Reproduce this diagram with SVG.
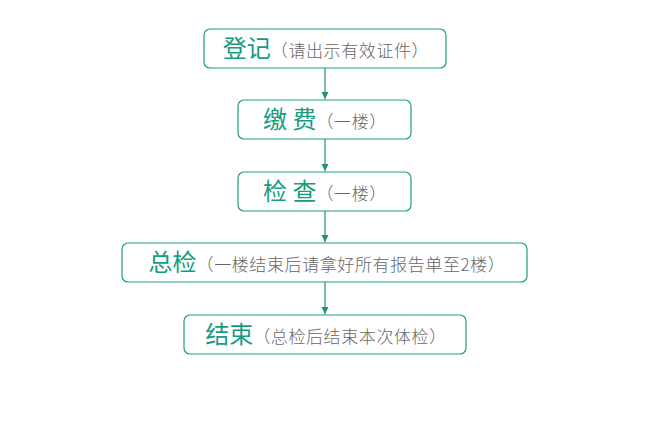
<svg xmlns="http://www.w3.org/2000/svg" width="651" height="429" viewBox="0 0 651 429">
<style>
.b{fill:#fff;stroke:#1f9c83;stroke-width:1.2}
.t{font-family:"Noto Sans CJK SC",sans-serif;text-anchor:middle}
.big{fill:#169c7f;font-size:24px}
.sm{fill:#666;font-size:17px;font-weight:300;letter-spacing:0.6px}
.c{stroke:#1f8f78;stroke-width:1.2;fill:none}
</style>
<defs><marker id="a" markerWidth="8" markerHeight="8" refX="7" refY="4" orient="auto" markerUnits="userSpaceOnUse"><path d="M0,0.5 L7,4 L0,7.5z" fill="#1f8f78"/></marker></defs>
<rect width="651" height="429" fill="#fff"/>
<g id="connectors">
<line class="c" x1="325" y1="68" x2="325" y2="99" marker-end="url(#a)"/>
<line class="c" x1="325" y1="139" x2="325" y2="171" marker-end="url(#a)"/>
<line class="c" x1="325" y1="211" x2="325" y2="242" marker-end="url(#a)"/>
<line class="c" x1="325" y1="282" x2="325" y2="314" marker-end="url(#a)"/>
</g>
<g id="n1"><rect class="b" x="204" y="29" width="242" height="39" rx="6"/><text class="t" x="326" y="57"><tspan class="big">登记</tspan><tspan class="sm">（请出示有效证件）</tspan></text></g>
<g id="n2"><rect class="b" x="238" y="100" width="173" height="39" rx="6"/><text class="t" x="325" y="128"><tspan class="big">缴 费</tspan><tspan class="sm">（一楼）</tspan></text></g>
<g id="n3"><rect class="b" x="238" y="172" width="173" height="39" rx="6"/><text class="t" x="325" y="200"><tspan class="big">检 查</tspan><tspan class="sm">（一楼）</tspan></text></g>
<g id="n4"><rect class="b" x="122" y="243" width="405" height="39" rx="6"/><text class="t" x="327" y="271"><tspan class="big">总检</tspan><tspan class="sm">（一楼结束后请拿好所有报告单至2楼）</tspan></text></g>
<g id="n5"><rect class="b" x="184" y="315" width="282" height="39" rx="6"/><text class="t" x="326" y="343"><tspan class="big">结束</tspan><tspan class="sm">（总检后结束本次体检）</tspan></text></g>
</svg>
